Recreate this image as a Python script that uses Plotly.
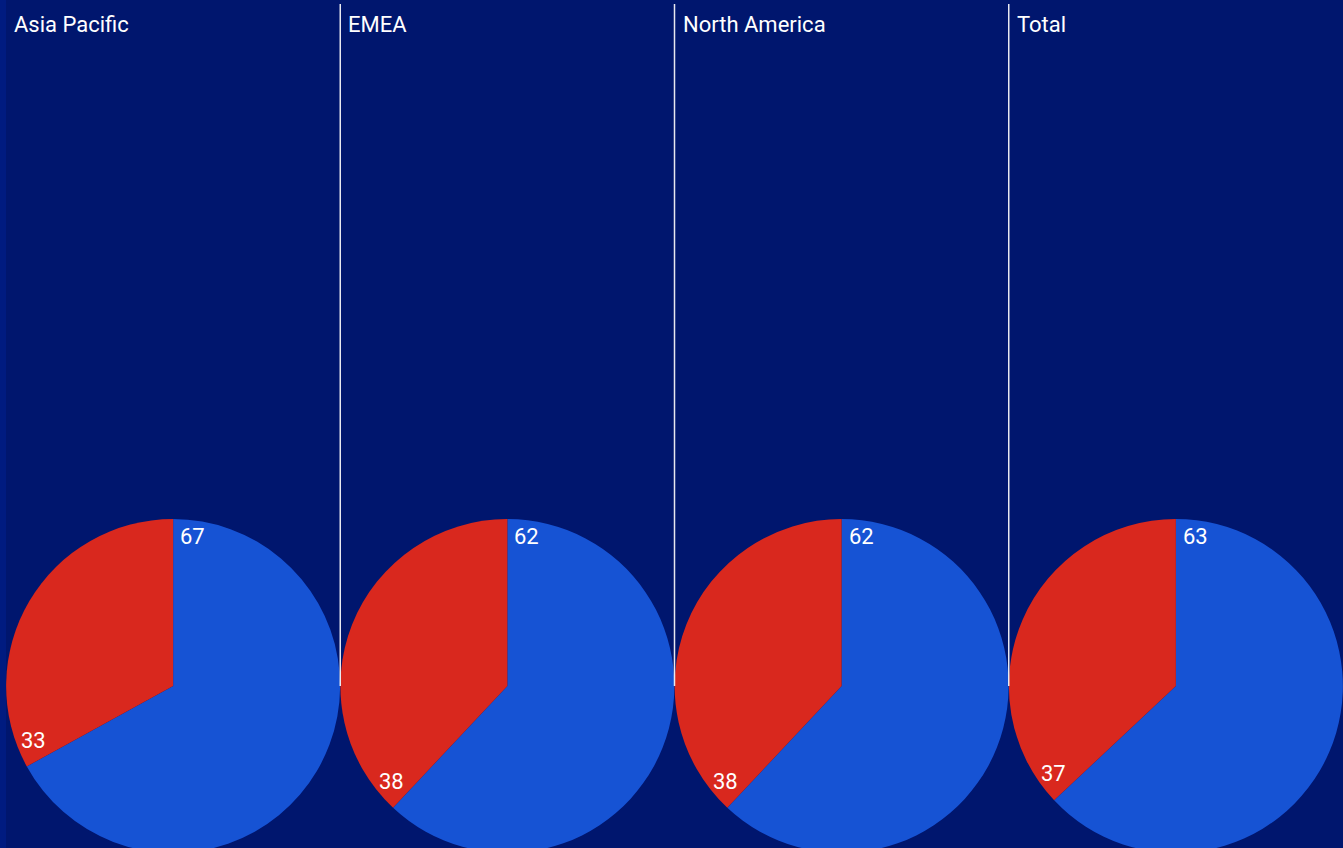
import numpy as np
import plotly.graph_objects as go

# data
regions = ["Asia Pacific", "EMEA", "North America", "Total"]
blue_share = [67, 62, 62, 63]
red_share = [33, 38, 38, 37]

BG_COLOR = "#00166E"
STRIP_COLOR = "#001B80"
BLUE = "#1653D4"
RED = "#D9281E"
TEXT_COLOR = "#FFFFFF"
FONT = "Roboto, Arial, sans-serif"

# the pies run off the bottom of the 848px window, so the figure is a bit taller
W, H = 1343, 853
LEFT = 6
PANEL_W = (W - LEFT) / len(regions)
CENTER_Y = 686  # px from top
DOMAIN_TOP = 2 * (H - CENTER_Y) / H
RADIUS = min(PANEL_W, DOMAIN_TOP * H) / 2


def px_to_paper(px, py):
    return (px - LEFT) / (W - LEFT), (H - py) / H


fig = go.Figure()
annotations = []
shapes = []

for i, region in enumerate(regions):
    vals = [blue_share[i], red_share[i]]
    fig.add_trace(go.Pie(
        values=vals,
        labels=["Blue", "Red"],
        marker=dict(colors=[BLUE, RED], line=dict(width=0)),
        sort=False,
        direction="clockwise",
        rotation=0,
        textinfo="none",
        hoverinfo="skip",
        domain=dict(x=[i / len(regions), (i + 1) / len(regions)], y=[0, DOMAIN_TOP]),
        showlegend=False,
    ))

    cx = LEFT + PANEL_W * (i + 0.5)
    # value labels sit just past the start of each slice, near the rim
    start = 0.0
    for v in vals:
        ang = np.radians(start * 3.6 + 7.5)
        r = 0.9 * RADIUS
        lx = cx + r * np.sin(ang)
        ly = CENTER_Y - r * np.cos(ang)
        ax_, ay_ = px_to_paper(lx, ly)
        annotations.append(dict(
            x=ax_, y=ay_, xref="paper", yref="paper",
            text=str(v), showarrow=False,
            xanchor="center", yanchor="middle",
            font=dict(size=22, color=TEXT_COLOR, family=FONT),
        ))
        start += v

    # panel title
    tx, _ = px_to_paper(LEFT + PANEL_W * i + 6, 0)
    annotations.append(dict(
        x=tx, y=1 - 10 / H, xref="paper", yref="paper",
        text=region, showarrow=False,
        xanchor="left", yanchor="top",
        font=dict(size=22, color=TEXT_COLOR, family=FONT),
    ))

    # separator
    if i > 0:
        sx, _ = px_to_paper(LEFT + PANEL_W * i, 0)
        shapes.append(dict(
            type="line", xref="paper", yref="paper",
            x0=sx, x1=sx, y0=(H - CENTER_Y) / H, y1=1 - 4 / H,
            line=dict(color="#E8E8F0", width=1.5),
        ))

# lighter strip at the left edge
shapes.append(dict(
    type="rect", xref="paper", yref="paper",
    x0=-LEFT / (W - LEFT), x1=0, y0=0, y1=1,
    fillcolor=STRIP_COLOR, line=dict(width=0), layer="below",
))

fig.update_layout(
    width=W,
    height=H,
    margin=dict(l=LEFT, r=0, t=0, b=0),
    paper_bgcolor=BG_COLOR,
    plot_bgcolor=BG_COLOR,
    annotations=annotations,
    shapes=shapes,
    font=dict(family=FONT, color=TEXT_COLOR),
)

# drop the default page margin so the chart sits flush in the window
fig.write_html(
    "out.html",
    config={"displayModeBar": False},
    post_script="document.body.style.margin='0';document.body.style.overflow='hidden';",
)
